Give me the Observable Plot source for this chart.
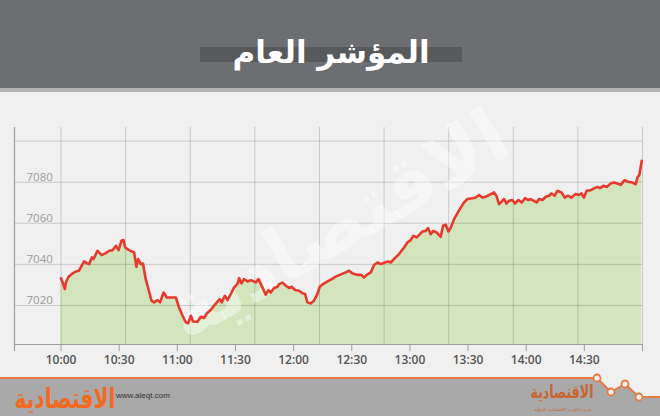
<!DOCTYPE html>
<html>
<head>
<meta charset="utf-8">
<script src="https://cdn.jsdelivr.net/npm/d3@7"></script>
<script src="https://cdn.jsdelivr.net/npm/@observablehq/plot@0.6"></script>
<style>
html,body{margin:0;padding:0;}
body{width:660px;height:416px;background:#f0f0f0;position:relative;overflow:hidden;font-family:"Open Sans",sans-serif;}
#header{position:absolute;left:0;top:0;}
#chart{position:absolute;left:0;top:92px;}
#footer{position:absolute;left:0;top:370px;}
</style>
</head>
<body>
<svg id="header" width="660" height="92">
  <rect x="0" y="0" width="660" height="88" fill="#6d6e71"/>
  <rect x="0" y="88" width="660" height="4" fill="#b3b3b3"/>
  <rect x="200" y="47" width="262" height="15" fill="#58595b"/>
  <text x="331" y="63" text-anchor="middle" fill="#ffffff" font-family="DejaVu Sans" font-weight="bold" font-size="31">المؤشر العام</text>
</svg>
<div id="chart"></div>
<svg id="footer" width="660" height="46">
  <polygon points="0,8 597,8 611,22 625,14 639,27 660,27 660,46 0,46" fill="#a9a9a9"/>
  <polyline points="0,8 597,8 611,22 625,14 639,27 660,27" fill="none" stroke="#e8793f" stroke-width="2"/>
  <circle cx="597" cy="8" r="3.5" fill="#f0f0f0" stroke="#e8793f" stroke-width="1.8"/>
  <circle cx="611" cy="22" r="3.5" fill="#f0f0f0" stroke="#e8793f" stroke-width="1.8"/>
  <circle cx="625" cy="14" r="3.5" fill="#f0f0f0" stroke="#e8793f" stroke-width="1.8"/>
  <circle cx="639" cy="27" r="3.5" fill="#f0f0f0" stroke="#e8793f" stroke-width="1.8"/>
  <g transform="translate(65,38) scale(0.72,1)">
    <text x="0" y="0" text-anchor="middle" fill="#f26a21" font-family="DejaVu Sans" font-weight="bold" font-size="28">الاقتصادية</text>
  </g>
  <text x="116" y="28" fill="#333" font-family="Liberation Sans" font-size="8">www.aleqt.com</text>
  <g transform="translate(562,28) scale(0.7,1)">
    <text x="0" y="0" text-anchor="middle" fill="#c9652e" font-family="DejaVu Sans" font-weight="bold" font-size="18">الاقتصادية</text>
  </g>
  <text x="563" y="41" text-anchor="middle" fill="#c9652e" font-family="DejaVu Sans" font-size="4.5">جريدة العرب الاقتصادية الدولية</text>
</svg>
<script>
// minutes after 10:00
const minutesAfter10 = [0,2,2.5,3.9,5.9,7.6,9.3,11.9,13.7,14.5,
15.9,16.8,18.8,21,23.1,24.8,26.6,28.3,29.7,31.2,
32.2,33.1,35.1,37.7,38.9,39.8,41.2,42.3,43.7,45.1,
46.7,48,49.8,51.1,52.9,54.6,56.6,59.2,60.9,62.7,
64.4,65.6,67,68.1,70.4,72.1,73.8,75.2,77.2,79,
80.4,81.9,82.9,84.5,85.9,87.6,89.3,91,91.9,93.1,
94.4,96.2,97.9,98.8,100.5,101.9,103.9,105.6,107,108.2,
109.9,111.7,112.5,114.3,116,117.7,119,120.8,122.8,124.6,
125.9,127.1,128.8,130.5,132.3,133.5,135.2,137.5,139.7,141.7,
143.8,146.9,148.6,150.4,152.9,155,156.3,157.7,159.8,161.5,
163.3,165,167,168.7,170.1,171.8,174.4,177,178.7,180.4,
181.8,183.5,185.2,186.5,188.2,189.4,190.7,192.1,193.8,195.9,
197.1,198.5,199.9,201.1,202.8,205.4,207.9,209.7,212.3,214,
215.7,217.4,219.1,221.7,223.4,224.6,226,227.4,228.6,229.8,
231.1,232.9,234.2,236,237.7,239.4,241.1,242.3,244,245.4,
246.6,248.4,250.1,251.8,253,254.7,256.1,258.2,259.9,261.6,
263.3,265.5,267.2,268.5,269.8,271.2,273.3,275.3,276.7,278.1,
279.8,281.5,283.6,285.3,287,288.8,290.8,292.5,294.8,296.5,
297.4,298.4,299.6];

const indexValues = [7033.3,7028,7031.2,7034,7035.6,7036.5,7036.9,7041.4,7040.4,7040.1,
7043.4,7042.6,7046.6,7044.5,7045.5,7046.6,7046.9,7049,7046.9,7051.5,
7051.8,7048.2,7046.9,7045.8,7038.8,7042.6,7040.1,7040.4,7032.8,7028,
7022.3,7021.5,7022.6,7021.5,7026.3,7023.9,7023.9,7023.9,7019,7015,
7011.8,7011.3,7015,7012.2,7012.1,7014.5,7013.9,7016.1,7017.8,7019.9,
7021.5,7023.1,7021.5,7024.7,7022.6,7025.6,7028.8,7030.4,7033.3,7030.7,
7032.8,7031.7,7032.3,7032,7031.2,7032.8,7028.8,7025.2,7027.5,7026.3,
7028.5,7029.1,7030.4,7031.1,7029.6,7028.5,7029.1,7027.5,7027.2,7025.9,
7025.6,7021.5,7021,7022.3,7025.6,7029.1,7030.4,7031.7,7032.8,7034,
7034.9,7036.1,7036.9,7035.6,7034.9,7034.9,7033.6,7034.9,7036.1,7039.7,
7040.9,7040.1,7040.9,7041.4,7040.9,7042.6,7045,7048.2,7050.6,7051.8,
7053.9,7053.1,7054.7,7056,7056.3,7057.6,7054.7,7056.3,7055.5,7053.4,
7058.8,7059.3,7056,7057.9,7062,7066.4,7070.1,7071.8,7072.2,7072.5,
7073.8,7072.5,7072.9,7074.2,7075,7073.4,7069.3,7070.6,7071.8,7069.6,
7070.9,7071.3,7069.6,7071.3,7070.1,7072.2,7071.3,7071.8,7070.9,7070.1,
7071.8,7071.3,7072.9,7073.4,7074.5,7073.4,7075.8,7075,7072.5,7073.4,
7072.5,7074.2,7073.8,7074.5,7072.5,7075.8,7076.1,7077.1,7077.7,7077.1,
7078.2,7077.7,7079.3,7079.8,7079.3,7078.7,7081,7080.2,7079.8,7079,
7082.3,7083.6,7090.4];

const xTickMinutes = [0,30,60,90,120,150,180,210,240,270,300];
const xTickLabels = ["10:00","10:30","11:00","11:30","12:00","12:30","13:00","13:30","14:00","14:30",""];
const yTickValues = [7020,7040,7060,7080];
const yGridValues = [7020,7040,7060,7080,7100];
const watermarkText = ["الاقتصادية"];

const xStart = -24, xEnd = 300, yMin = 7001, yMax = 7106.6;
const xGridValues = d3.range(10).map(i => i * xEnd / 9);

const data = minutesAfter10.map((m, i) => ({m, v: indexValues[i]}));
const xTicks = xTickMinutes.map((m, i) => ({m, label: xTickLabels[i]}));

const chart = Plot.plot({
  width: 660,
  height: 286,
  marginLeft: 14,
  marginRight: 18,
  marginTop: 35,
  marginBottom: 34,
  style: {background: "transparent", overflow: "visible"},
  x: {domain: [xStart, xEnd], axis: null},
  y: {domain: [yMin, yMax], axis: null},
  marks: [
    Plot.areaY(data, {x: "m", y1: yMin, y2: "v", fill: "#d3e5bd", curve: "linear"}),
    Plot.ruleY(yGridValues, {x1: xStart, x2: xEnd, stroke: "#000", strokeOpacity: 0.16}),
    Plot.ruleX(xGridValues, {y1: yMin, y2: yMax, stroke: "#000", strokeOpacity: 0.16}),
    Plot.text(watermarkText, {frameAnchor: "middle", dx: 10, dy: -10, rotate: -30, text: d => d,
      fontSize: 76, fontWeight: "bold", fontFamily: "DejaVu Sans", fill: "#ffffff", fillOpacity: 0.42}),
    Plot.line(data, {x: "m", y: "v", stroke: "#e63a2e", strokeWidth: 2.6, strokeLinejoin: "round"}),
    Plot.ruleY([yMin], {x1: xStart, x2: xEnd, stroke: "#9e9e9e", strokeWidth: 1}),
    Plot.ruleX([xStart], {y1: yMin - 3.5, y2: yMax, stroke: "#9e9e9e", strokeWidth: 1.2}),
    Plot.ruleX(xTicks, {x: "m", y1: yMin, y2: yMin - 3.5, stroke: "#9e9e9e", strokeWidth: 1}),
    Plot.text(xTicks, {x: "m", y: yMin, dy: 16, text: "label", fontSize: 12, fontWeight: 600,
      fill: "#555", fontFamily: "Open Sans"}),
    Plot.text(yTickValues, {x: xStart, y: d => d, dx: 12, dy: -5, text: d => String(d), textAnchor: "start",
      fontSize: 11.5, fill: "#9c9c9c", fontFamily: "Open Sans"})
  ]
});
document.getElementById("chart").appendChild(chart);
</script>
</body>
</html>
